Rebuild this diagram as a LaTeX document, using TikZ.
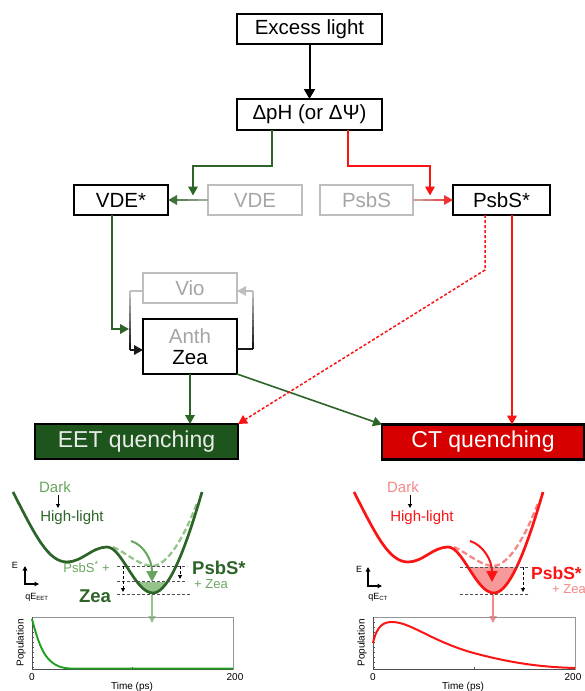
\documentclass[tikz,border=0pt]{standalone}
\usepackage{fontspec}
\setmainfont{Liberation Sans}
\usetikzlibrary{arrows.meta,calc}
\definecolor{dgreen}{RGB}{45,100,40}
\definecolor{boxgreen}{RGB}{30,85,28}
\definecolor{lgreen}{RGB}{105,165,95}
\definecolor{llgreen}{RGB}{150,195,140}
\definecolor{plotgreen}{RGB}{30,160,30}
\definecolor{myred}{RGB}{250,20,20}
\definecolor{boxred}{RGB}{215,0,0}
\definecolor{mypink}{RGB}{245,135,135}
\definecolor{lgray}{RGB}{190,190,190}
\definecolor{tgray}{RGB}{165,165,165}
\definecolor{dashgray}{RGB}{80,80,80}
\definecolor{framegray}{RGB}{150,150,150}
\begin{document}
\begin{tikzpicture}[x=1pt,y=-1pt,
  box/.style={draw=black, line width=1.4pt, inner sep=0pt, outer sep=0pt, minimum height=30pt, font=\fontsize{20.5}{24}\selectfont},
  gbox/.style={box, draw=lgray, text=tgray},
  qbox/.style={draw=black, line width=2.3pt, inner sep=0pt, outer sep=0pt, minimum width=203pt, minimum height=35pt, font=\fontsize{23}{27}\selectfont},
  tipb/.style={-{Triangle[length=10pt,width=11pt]}},
  tipc/.style={-{Triangle[length=9pt,width=9.5pt]}},
  tips/.style={-{Triangle[length=4pt,width=4pt]}},
  gline/.style={dgreen, line width=2pt},
  rline/.style={myred, line width=2pt},
  dl/.style={dashgray, line width=1pt, dash pattern=on 3pt off 2pt},
  lbl/.style={inner sep=0pt, font=\fontsize{15}{17}\selectfont},
  big/.style={inner sep=0pt, font=\fontsize{18.5}{21}\selectfont\bfseries},
  small/.style={inner sep=0pt, font=\fontsize{13}{15}\selectfont},
  tiny/.style={inner sep=0pt, font=\fontsize{9}{10}\selectfont},
  axl/.style={inner sep=0pt, font=\fontsize{10}{11}\selectfont},
  curve/.style={line width=2.7pt, line join=round},
]
\useasboundingbox (0,0) rectangle (585,691);

% ---------- boxes ----------
\node[box, minimum width=145pt] (excess) at (309.5,29) {Excess light};
\node[box, minimum width=145pt, minimum height=31pt] (dph) at (309.5,114.5) {ΔpH (or ΔΨ)};
\node[box, minimum width=94pt] (vdes) at (121,200) {VDE*};
\node[gbox, minimum width=94pt] (vde) at (255,200) {VDE};
\node[gbox, minimum width=93pt] (psbs) at (366.5,200) {PsbS};
\node[box, minimum width=97pt] (psbss) at (501.5,200) {PsbS*};
\node[gbox, minimum width=94pt] (vio) at (190,288) {Vio};
\node[box, minimum width=94pt, minimum height=55pt, align=center] (az) at (190,346.5) {\textcolor{tgray}{Anth}\\[-3pt]Zea};
\node[qbox, fill=boxgreen, text={rgb,255:red,232;green,236;blue,232}] (eet) at (136.5,441.5) {EET quenching};
\node[qbox, fill=boxred, minimum width=202pt, text=white] (ct) at (483,442) {CT quenching};

% ---------- connectors ----------
\draw[black, line width=2pt, tipb] (excess) -- (dph);

\coordinate (g1) at (272,166); \coordinate (g2) at (193,166); \coordinate (g3) at (193,195.5);
\draw[gline, tipc] (g1 |- dph.south) -- (g1) -- (g2) -- (g3);
\coordinate (r1) at (348,166); \coordinate (r2) at (430,166); \coordinate (r3) at (430,195.5);
\draw[rline, tipc] (r1 |- dph.south) -- (r1) -- (r2) -- (r3);

% VDE -> VDE* (gray to green)
\foreach \i/\c in {0/25,1/45,2/65} {
  \draw[line width=1.8pt, color=dgreen!\c!lgray] ($(vde.west)!\i/4!(vdes.east)$) -- ($(vde.west)!\i/4+0.26!(vdes.east)$);
}
\draw[line width=1.8pt, color=dgreen!85!lgray, tipc] ($(vde.west)!0.75!(vdes.east)$) -- (vdes.east);
% PsbS -> PsbS* (gray to red)
\foreach \i/\c in {0/20,1/40,2/60} {
  \draw[line width=1.8pt, color=myred!\c!lgray] ($(psbs.east)!\i/4!(psbss.west)$) -- ($(psbs.east)!\i/4+0.26!(psbss.west)$);
}
\draw[line width=1.8pt, color=myred!80!lgray, tipc] ($(psbs.east)!0.75!(psbss.west)$) -- (psbss.west);

% VDE* -> Anth/Zea
\coordinate (v1) at (112,329); \coordinate (v2) at (129,329);
\draw[gline, tipc] (v1 |- vdes.south) -- (v1) -- (v2);

% cycle Vio <-> Anth/Zea
\coordinate (cl1) at (130,291); \coordinate (cl2) at (130,350);
\coordinate (cr1) at (253,349); \coordinate (cr2) at (253,291);
\draw[lgray, line width=1.7pt] (cl1 -| vio.west) -- (cl1);
\foreach \i/\c in {0/0,1/12,2/25,3/38,4/50,5/62,6/75,7/88} {
  \draw[line width=1.7pt, color=black!\c!lgray] ($(cl1)!\i/8!(cl2)$) -- ($(cl1)!\i/8+0.13!(cl2)$);
}
\draw[black!90, line width=1.7pt, tipc] (cl2) -- (cl2 -| az.west);
\draw[black!90, line width=1.7pt] (cr1 -| az.east) -- (cr1);
\foreach \i/\c in {0/88,1/75,2/62,3/50,4/38,5/25,6/12,7/0} {
  \draw[line width=1.7pt, color=black!\c!lgray] ($(cr1)!\i/8!(cr2)$) -- ($(cr1)!\i/8+0.13!(cr2)$);
}
\draw[lgray, line width=1.7pt, tipc] (cr2) -- (cr2 -| vio.east);

% to quenching boxes
\draw[gline, tipc] (az.south) -- (az.south |- eet.north);
\draw[dgreen, line width=1.6pt, tipc] (az.south east) -- (ct.north west);
\coordinate (p1) at (512,300);
\draw[rline, tipc] (p1 |- psbss.south) -- (p1 |- ct.north);
\coordinate (d1) at (485,270);
\draw[myred, line width=1.5pt, dash pattern=on 3pt off 2pt, tipc] (d1 |- psbss.south) -- (d1) -- (eet.north east);

% ---------- left bottom panel ----------
\node[lbl, text=lgreen] (ldark) at (55,487) {Dark};
\draw[black, line width=1pt, tips] (58,495) -- (58,508);
\node[lbl, text=dgreen] (lhigh) at (72,518) {High-light};

\begin{scope}
\clip (100,582) rectangle (210,600);
\fill[llgreen] (107,547) .. controls (122,547) and (135,593) .. (153,593) .. controls (170,593) and (188,540) .. (202,492) -- cycle;
\end{scope}
\draw[llgreen, line width=2.3pt, dash pattern=on 6pt off 3pt] (113,547) .. controls (125,552) and (140,566) .. (152,566) .. controls (168,566) and (185,535) .. (197,503);
\draw[dgreen, curve] (13,492) .. controls (35,535) and (48,562) .. (67,562) .. controls (82,562) and (92,547) .. (107,547) .. controls (122,547) and (135,593) .. (153,593) .. controls (170,593) and (188,540) .. (202,492);
\draw[lgreen, line width=2pt, -{Triangle[length=11pt,width=11pt]}] (131,541) .. controls (144,545) and (152,560) .. (152,582);

\draw[dl] (117,566) -- (187,566);
\draw[dl] (117,581) -- (187,581);
\draw[dl] (117,594) -- (190,594);
\draw[dl, black, tips] (123,566) -- (123,592);
\draw[dl, black, tips] (180,566) -- (180,579);

\node[small, text=lgreen, anchor=east] (lpz) at (110,567) {PsbS\textsuperscript{*} +};
\node[big, text=dgreen] (lzea) at (95,596) {Zea};
\node[big, text=dgreen, anchor=west] (lpsbs) at (192,568) {PsbS*};
\node[small, text=lgreen, anchor=west] (lplz) at (194,584) {+ Zea};

\node[tiny] (le) at (15,565) {E};
\draw[black, line width=1.5pt, {Triangle[length=4.5pt,width=4.5pt]}-{Triangle[length=4.5pt,width=4.5pt]}] (25,566) -- (25,584) -- (39,584);
\node[tiny] (lqe) at (37,597) {qE\textsubscript{EET}};

\draw[llgreen, line width=1.7pt, -{Triangle[length=7pt,width=7pt]}] (152,595) -- (152,623);

% plot left
\draw[framegray, line width=0.9pt] (32,617) rectangle (233,669);
\draw[dashgray, line width=1pt] (32,617) -- (32,669) -- (233,669);
\foreach \y in {622,627,...,667} \draw[dashgray, line width=0.5pt] (32,\y) -- (34,\y);
\draw[dashgray, line width=0.7pt] (132.5,669) -- (132.5,667);
\draw[plotgreen, line width=1.9pt] (32,619) .. controls (40,650) and (47,667.5) .. (70,668.5) -- (233,668.5);
\node[axl, rotate=90] (lpop) at (21,643) {Population};
\node[axl] (l0) at (32,677) {0};
\node[axl] (l200) at (235,677) {200};
\node[axl] (ltime) at (132,686.5) {Time (ps)};

% ---------- right bottom panel ----------
\node[lbl, text=mypink] (rdark) at (403,487) {Dark};
\draw[black, line width=1pt, tips] (410,495) -- (410,508);
\node[lbl, text=myred] (rhigh) at (422,518) {High-light};

\begin{scope}[xshift=341pt]
\begin{scope}
\clip (100,567) rectangle (210,600);
\fill[mypink!85] (107,547) .. controls (122,547) and (135,593) .. (153,593) .. controls (170,593) and (188,540) .. (202,492) -- cycle;
\end{scope}
\draw[mypink, line width=2.3pt, dash pattern=on 6pt off 3pt] (113,547) .. controls (125,552) and (140,566) .. (152,566) .. controls (168,566) and (185,535) .. (197,503);
\draw[myred, curve] (13,492) .. controls (35,535) and (48,562) .. (67,562) .. controls (82,562) and (92,547) .. (107,547) .. controls (122,547) and (135,593) .. (153,593) .. controls (170,593) and (188,540) .. (202,492);
\draw[myred, line width=2pt, -{Triangle[length=11pt,width=11pt]}] (129,541) .. controls (142,545) and (151,560) .. (151,582);
\draw[dl] (119,567) -- (189,567);
\draw[dl] (119,594) -- (189,594);
\draw[dl, black, tips] (182,567) -- (182,592);
\draw[mypink, line width=1.7pt, -{Triangle[length=7pt,width=7pt]}] (152,595) -- (152,623);
% plot right
\draw[framegray, line width=0.9pt] (32,617) rectangle (234,669);
\draw[dashgray, line width=1pt] (32,617) -- (32,669) -- (234,669);
\foreach \y in {622,627,...,667} \draw[dashgray, line width=0.5pt] (32,\y) -- (34,\y);
\draw[dashgray, line width=0.7pt] (133,669) -- (133,667);
\draw[myred, line width=2pt] (32,643) .. controls (36,625) and (43,622) .. (51,622) .. controls (69,622) and (89,640) .. (129,652) .. controls (169,663) and (199,667) .. (234,668);
\node[axl, rotate=90] (rpop) at (21,643) {Population};
\node[axl] (r0) at (32,677) {0};
\node[axl] (r200) at (232,677) {200};
\node[axl] (rtime) at (122,686.5) {Time (ps)};
\end{scope}

\node[inner sep=0pt, font=\fontsize{17.5}{20}\selectfont\bfseries, text=myred, anchor=west] (rpsbs) at (531,573) {PsbS*};
\node[small, text=mypink, anchor=west] (rplz) at (552,589) {+ Zea};
\node[tiny] (re) at (359,569) {E};
\draw[black, line width=1.5pt, {Triangle[length=4.5pt,width=4.5pt]}-{Triangle[length=4.5pt,width=4.5pt]}] (368,567) -- (368,586) -- (382,586);
\node[tiny] (rqe) at (378,597) {qE\textsubscript{CT}};
\end{tikzpicture}
\end{document}
